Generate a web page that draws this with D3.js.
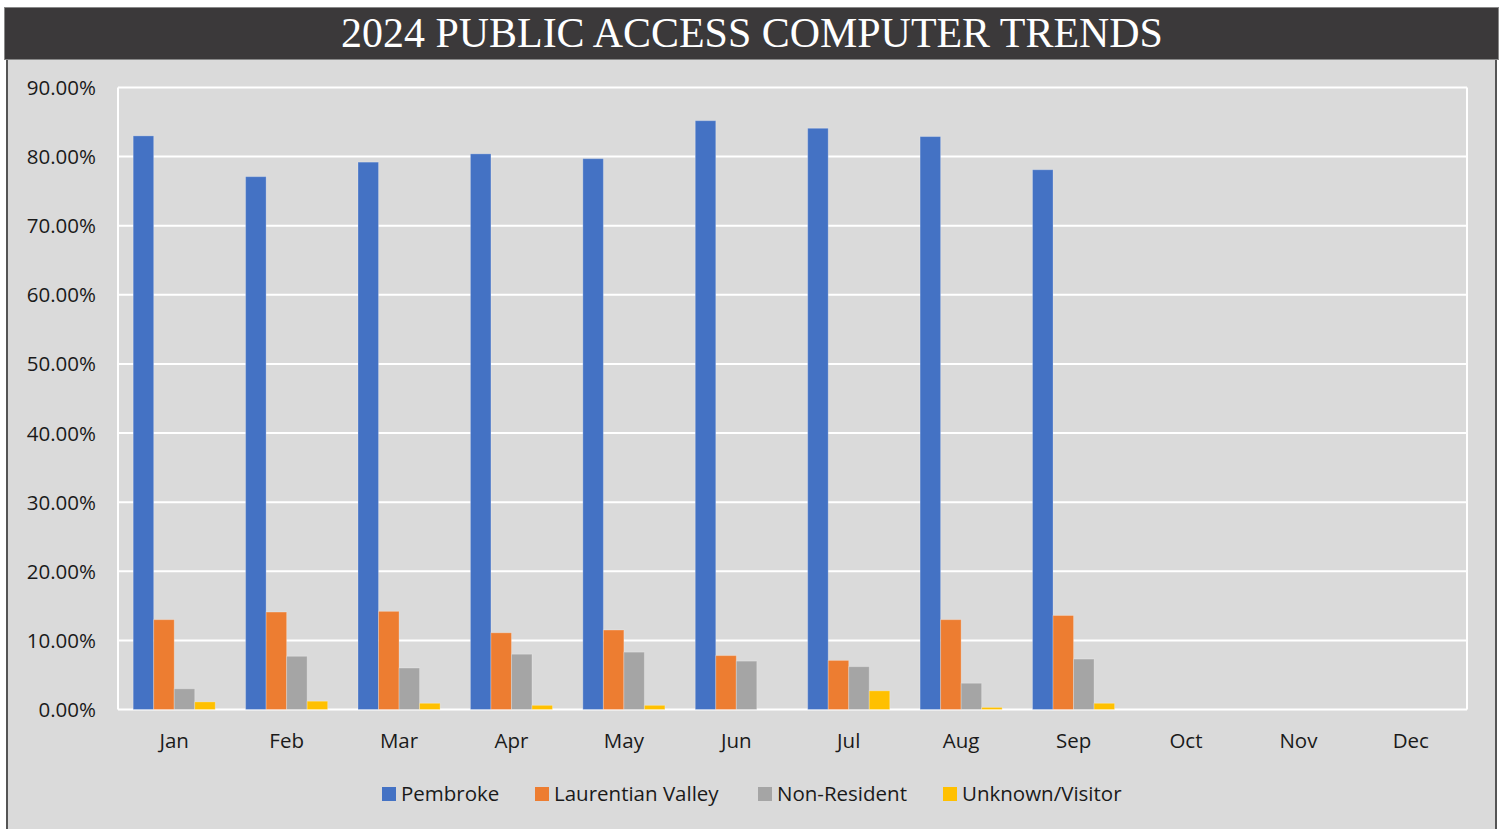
<!DOCTYPE html>
<html>
<head>
<meta charset="utf-8">
<script src="https://cdn.jsdelivr.net/npm/d3@7"></script>
<style>
  body { margin: 0; background: #ffffff; }
  svg { display: block; }
</style>
</head>
<body>
<svg id="chart"></svg>
<script>
const months = ["Jan", "Feb", "Mar", "Apr", "May", "Jun", "Jul", "Aug", "Sep", "Oct", "Nov", "Dec"];
const seriesNames = ["Pembroke", "Laurentian Valley", "Non-Resident", "Unknown/Visitor"];
const pembroke = [83.0, 77.1, 79.2, 80.4, 79.7, 85.2, 84.1, 82.9, 78.1, null, null, null];
const laurentian = [13.0, 14.1, 14.2, 11.1, 11.5, 7.8, 7.1, 13.0, 13.6, null, null, null];
const nonResident = [3.0, 7.7, 6.0, 8.0, 8.3, 7.0, 6.2, 3.8, 7.3, null, null, null];
const unknownVisitor = [1.1, 1.2, 0.9, 0.6, 0.6, 0.0, 2.7, 0.3, 0.9, null, null, null];
const yTicks = [0, 10, 20, 30, 40, 50, 60, 70, 80, 90];
const colors = ["#4472c4", "#ed7d31", "#a5a5a5", "#ffc000"];
const titleText = "2024 PUBLIC ACCESS COMPUTER TRENDS";

const W = 1506, H = 829;
const svg = d3.select("#chart").attr("width", W).attr("height", H);
const sans = "'Open Sans', 'Noto Sans', sans-serif";

// panel + title bar
svg.append("rect").attr("x", 7).attr("y", 59).attr("width", 1489).attr("height", H - 59)
  .attr("fill", "#dadada");
svg.append("line").attr("x1", 7).attr("x2", 7).attr("y1", 59).attr("y2", H)
  .attr("stroke", "#555").attr("stroke-width", 2);
svg.append("line").attr("x1", 1496).attr("x2", 1496).attr("y1", 59).attr("y2", H)
  .attr("stroke", "#555").attr("stroke-width", 2);
svg.append("rect").attr("x", 4.5).attr("y", 7.5).attr("width", 1494).attr("height", 52)
  .attr("fill", "#3b393a").attr("stroke", "#888").attr("stroke-width", 1);

const title = svg.append("text")
  .attr("x", 752).attr("y", 47)
  .attr("text-anchor", "middle")
  .attr("fill", "#ffffff")
  .style("font-family", "'Liberation Serif', 'DejaVu Serif', serif")
  .style("font-size", "36px")
  .text(titleText);
// fit title to reference width (~822px)
const tw = title.node().getComputedTextLength();
title.style("font-size", (36 * 822 / tw).toFixed(2) + "px");

// scales
const plot = { left: 118, right: 1467, top: 87.5, bottom: 709.5 };
const x = d3.scaleBand().domain(months).range([plot.left, plot.right]).paddingInner(0.27).paddingOuter(0.135);
const x1 = d3.scaleBand().domain(seriesNames).range([0, x.bandwidth()]);
const y = d3.scaleLinear().domain([0, 90]).range([plot.bottom, plot.top]);

// gridlines
svg.append("g").selectAll("line").data(yTicks).join("line")
  .attr("x1", plot.left).attr("x2", plot.right)
  .attr("y1", d => y(d)).attr("y2", d => y(d))
  .attr("stroke", "#ffffff").attr("stroke-width", 2);
svg.append("line").attr("x1", plot.left).attr("x2", plot.left)
  .attr("y1", plot.top).attr("y2", plot.bottom)
  .attr("stroke", "#ffffff").attr("stroke-width", 2);
svg.append("line").attr("x1", plot.right).attr("x2", plot.right)
  .attr("y1", plot.top).attr("y2", plot.bottom)
  .attr("stroke", "#ffffff").attr("stroke-width", 2);

// y axis labels
const yAxis = d3.axisLeft(y).tickValues(yTicks).tickSize(0).tickPadding(0)
  .tickFormat(d => d.toFixed(2) + "%");
const yg = svg.append("g").attr("transform", "translate(96,0)").call(yAxis);
yg.select(".domain").remove();
yg.selectAll("text").attr("fill", "#1a1a1a").attr("dy", "0.34em")
  .style("font-family", sans).style("font-size", "20.5px");

// x axis labels
const xAxis = d3.axisBottom(x).tickSize(0).tickPadding(0);
const xg = svg.append("g").attr("transform", "translate(0,733)").call(xAxis);
xg.select(".domain").remove();
xg.selectAll("text").attr("fill", "#1a1a1a")
  .style("font-family", sans).style("font-size", "20.5px");

// bars
const allSeries = [pembroke, laurentian, nonResident, unknownVisitor];
const rows = [];
months.forEach((m, i) => {
  allSeries.forEach((s, j) => {
    if (s[i] != null) rows.push({ month: m, series: seriesNames[j], value: s[i], color: colors[j] });
  });
});
svg.append("g").selectAll("rect").data(rows).join("rect")
  .attr("x", d => x(d.month) + x1(d.series))
  .attr("y", d => y(d.value))
  .attr("width", x1.bandwidth())
  .attr("height", d => y(0) - y(d.value))
  .attr("fill", d => d.color)
  .attr("stroke", "rgba(255,255,255,0.25)").attr("stroke-width", 1);

// legend
const legendX = [382, 535, 758, 943];
const lg = svg.append("g");
seriesNames.forEach((name, i) => {
  lg.append("rect").attr("x", legendX[i]).attr("y", 787).attr("width", 14).attr("height", 14)
    .attr("fill", colors[i]);
  lg.append("text").attr("x", legendX[i] + 19).attr("y", 801)
    .attr("fill", "#1a1a1a")
    .style("font-family", sans).style("font-size", "20.5px")
    .text(name);
});
</script>
</body>
</html>
